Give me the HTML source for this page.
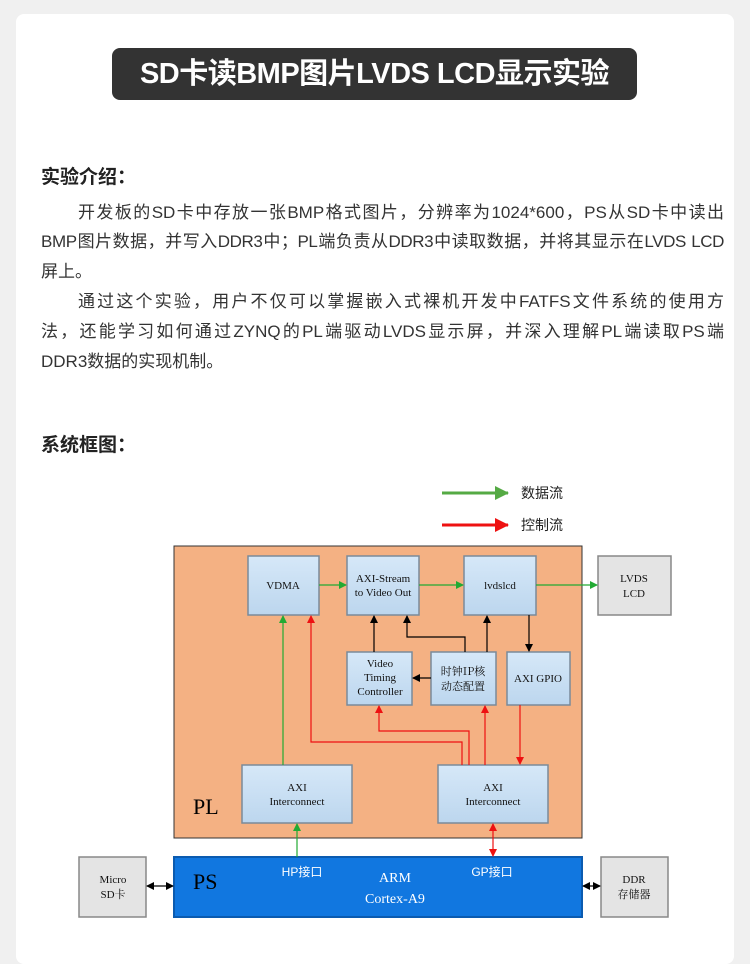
<!DOCTYPE html>
<html><head><meta charset="utf-8"><style>
body{margin:0;background:#f0f0f0;width:750px;height:947px;overflow:hidden;position:relative;font-family:"Liberation Sans","Noto Sans CJK SC",sans-serif;}
.card{position:absolute;left:16px;top:14px;width:718px;height:950px;background:#fff;border-radius:8px;}
.title{position:absolute;left:112px;top:48px;width:525px;height:52px;background:#333;border-radius:8px;color:#fff;font-weight:bold;font-size:29px;line-height:52px;text-align:center;letter-spacing:-0.5px}
.h{position:absolute;left:41px;font-size:19px;font-weight:bold;color:#222}
.l{position:absolute;left:41px;font-size:17px;color:#333;white-space:nowrap;line-height:30px}
.j{text-align:justify;text-align-last:justify;white-space:normal}
</style></head><body>
<div class="card"></div>
<div class="title">SD卡读BMP图片LVDS LCD显示实验</div>
<div class="h" style="top:162px">实验介绍：</div>
<div class="l j" style="top:198px;left:78px;width:646px">开发板的SD卡中存放一张BMP格式图片，分辨率为1024*600，PS从SD卡中读出</div>
<div class="l j" style="top:227px;width:683px;letter-spacing:-0.4px">BMP图片数据，并写入DDR3中；PL端负责从DDR3中读取数据，并将其显示在LVDS LCD</div>
<div class="l" style="top:257px">屏上。</div>
<div class="l j" style="top:287px;left:78px;width:646px">通过这个实验，用户不仅可以掌握嵌入式裸机开发中FATFS文件系统的使用方</div>
<div class="l j" style="top:317px;width:683px">法，还能学习如何通过ZYNQ的PL端驱动LVDS显示屏，并深入理解PL端读取PS端</div>
<div class="l" style="top:347px">DDR3数据的实现机制。</div>
<div class="h" style="top:430px">系统框图：</div>
<svg style="position:absolute;left:0;top:0" width="750" height="947" font-family="Liberation Serif,Noto Serif CJK SC,serif">
<defs>
<marker id="g" markerWidth="8" markerHeight="8" refX="7" refY="4" orient="auto" markerUnits="userSpaceOnUse"><path d="M0,0L8,4L0,8z" fill="#22aa33"/></marker>
<marker id="r" markerWidth="8" markerHeight="8" refX="7" refY="4" orient="auto" markerUnits="userSpaceOnUse"><path d="M0,0L8,4L0,8z" fill="#ee1111"/></marker>
<marker id="k" markerWidth="8" markerHeight="8" refX="7" refY="4" orient="auto" markerUnits="userSpaceOnUse"><path d="M0,0L8,4L0,8z" fill="#000"/></marker>
<marker id="g2" markerWidth="14" markerHeight="14" refX="13" refY="7" orient="auto" markerUnits="userSpaceOnUse"><path d="M0,0L14,7L0,14z" fill="#55aa44"/></marker>
<marker id="r2" markerWidth="14" markerHeight="14" refX="13" refY="7" orient="auto" markerUnits="userSpaceOnUse"><path d="M0,0L14,7L0,14z" fill="#ee1111"/></marker>
<marker id="ks" markerWidth="8" markerHeight="8" refX="1" refY="4" orient="auto" markerUnits="userSpaceOnUse"><path d="M8,0L0,4L8,8z" fill="#000"/></marker>
<marker id="rs" markerWidth="8" markerHeight="8" refX="1" refY="4" orient="auto" markerUnits="userSpaceOnUse"><path d="M8,0L0,4L8,8z" fill="#ee1111"/></marker>
<linearGradient id="bl" x1="0" y1="0" x2="0" y2="1"><stop offset="0" stop-color="#d6e8f8"/><stop offset="1" stop-color="#bcd6ee"/></linearGradient>
</defs>
<line x1="442" y1="493" x2="508" y2="493" stroke="#55aa44" stroke-width="3" marker-end="url(#g2)"/>
<text x="521" y="498" font-size="14" font-family="Noto Sans CJK SC,sans-serif" fill="#222">数据流</text>
<line x1="442" y1="525" x2="508" y2="525" stroke="#ee1111" stroke-width="3" marker-end="url(#r2)"/>
<text x="521" y="530" font-size="14" font-family="Noto Sans CJK SC,sans-serif" fill="#222">控制流</text>
<rect x="174" y="546" width="408" height="292" fill="#f4b183" stroke="#333" stroke-width="1"/>
<text x="193" y="814" font-size="22">PL</text>
<rect x="174" y="857" width="408" height="60" fill="#1177e0" stroke="#0b5bb0" stroke-width="2"/>
<text x="193" y="889" font-size="22">PS</text>
<text x="302" y="876" font-size="12" fill="#fff" font-family="Liberation Sans,Noto Sans CJK SC,sans-serif" text-anchor="middle">HP接口</text>
<text x="492" y="876" font-size="12" fill="#fff" font-family="Liberation Sans,Noto Sans CJK SC,sans-serif" text-anchor="middle">GP接口</text>
<text x="395" y="882" font-size="14" fill="#fff" text-anchor="middle">ARM</text>
<text x="395" y="903" font-size="14" fill="#fff" text-anchor="middle">Cortex-A9</text>
<g stroke="#7a8a9a" stroke-width="1.5">
<rect x="248" y="556" width="71" height="59" fill="url(#bl)"/>
<rect x="347" y="556" width="72" height="59" fill="url(#bl)"/>
<rect x="464" y="556" width="72" height="59" fill="url(#bl)"/>
<rect x="347" y="652" width="65" height="53" fill="url(#bl)"/>
<rect x="431" y="652" width="65" height="53" fill="url(#bl)"/>
<rect x="507" y="652" width="63" height="53" fill="url(#bl)"/>
<rect x="242" y="765" width="110" height="58" fill="url(#bl)"/>
<rect x="438" y="765" width="110" height="58" fill="url(#bl)"/>
</g>
<g stroke="#888" stroke-width="1.5" fill="#e4e4e4">
<rect x="598" y="556" width="73" height="59"/>
<rect x="79" y="857" width="67" height="60"/>
<rect x="601" y="857" width="67" height="60"/>
</g>
<g font-size="11" text-anchor="middle" fill="#111">
<text x="283" y="589">VDMA</text>
<text x="383" y="582">AXI-Stream</text><text x="383" y="596">to Video Out</text>
<text x="500" y="589">lvdslcd</text>
<text x="634" y="582">LVDS</text><text x="634" y="597">LCD</text>
<text x="380" y="667">Video</text><text x="380" y="681">Timing</text><text x="380" y="695">Controller</text>
<text x="463" y="675" font-family="Noto Serif CJK SC,serif">时钟IP核</text><text x="463" y="690" font-family="Noto Serif CJK SC,serif">动态配置</text>
<text x="538" y="682">AXI GPIO</text>
<text x="297" y="791">AXI</text><text x="297" y="805">Interconnect</text>
<text x="493" y="791">AXI</text><text x="493" y="805">Interconnect</text>
<text x="113" y="883">Micro</text><text x="113" y="898" font-family="Liberation Serif,Noto Serif CJK SC,serif">SD卡</text>
<text x="634" y="883">DDR</text><text x="634" y="898" font-family="Noto Serif CJK SC,serif">存储器</text>
</g>
<g stroke="#22aa33" stroke-width="1.2" fill="none">
<line x1="319" y1="585" x2="346" y2="585" marker-end="url(#g)"/>
<line x1="419" y1="585" x2="463" y2="585" marker-end="url(#g)"/>
<line x1="536" y1="585" x2="597" y2="585" marker-end="url(#g)"/>
<line x1="283" y1="765" x2="283" y2="616" marker-end="url(#g)"/>
<line x1="297" y1="857" x2="297" y2="824" marker-end="url(#g)"/>
</g>
<g stroke="#000" stroke-width="1.2" fill="none">
<line x1="374" y1="652" x2="374" y2="616" marker-end="url(#k)"/>
<polyline points="465,652 465,637 407,637 407,616" marker-end="url(#k)"/>
<line x1="487" y1="652" x2="487" y2="616" marker-end="url(#k)"/>
<line x1="431" y1="678" x2="413" y2="678" marker-end="url(#k)"/>
<line x1="529" y1="615" x2="529" y2="651" marker-end="url(#k)"/>
<line x1="147" y1="886" x2="173" y2="886" marker-start="url(#ks)" marker-end="url(#k)"/>
<line x1="583" y1="886" x2="600" y2="886" marker-start="url(#ks)" marker-end="url(#k)"/>
</g>
<g stroke="#ee1111" stroke-width="1.2" fill="none">
<polyline points="462,765 462,742 311,742 311,616" marker-end="url(#r)"/>
<polyline points="469,765 469,731 379,731 379,706" marker-end="url(#r)"/>
<line x1="485" y1="765" x2="485" y2="706" marker-end="url(#r)"/>
<line x1="520" y1="705" x2="520" y2="764" marker-end="url(#r)"/>
<line x1="493" y1="856" x2="493" y2="824" marker-start="url(#rs)" marker-end="url(#r)"/>
</g>
</svg>
</body></html>
